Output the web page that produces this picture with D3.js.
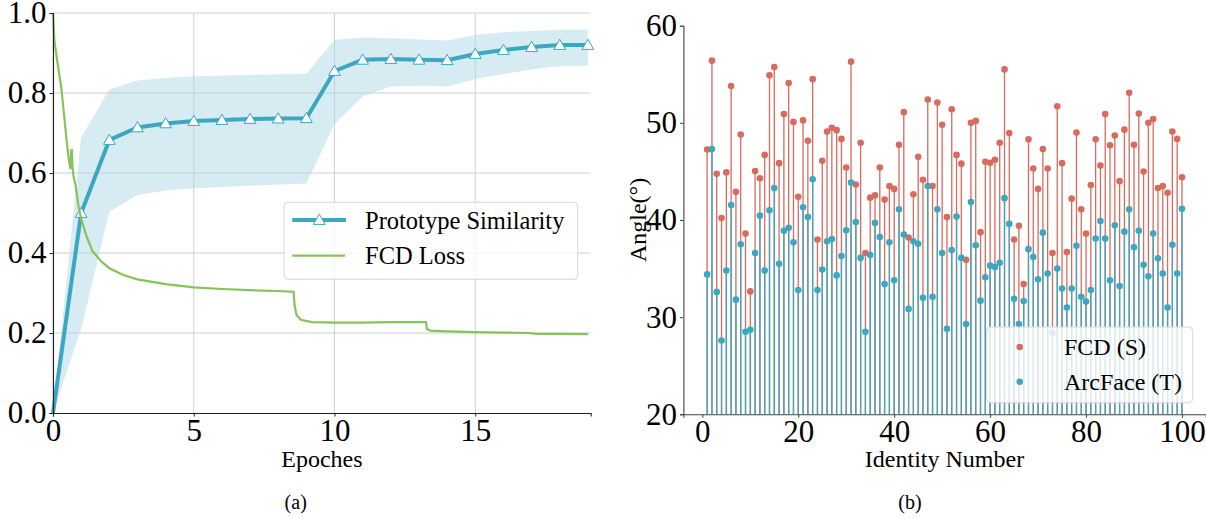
<!DOCTYPE html>
<html>
<head>
<meta charset="utf-8">
<script src="https://cdn.jsdelivr.net/npm/d3@7"></script>
<style>
    body { margin: 0; background: #fff; }
    svg { display: block; }
</style>
</head>
<body>
<svg id="chart" width="1206" height="518"></svg>
<script>
// ---- (a) data ----
var epochs = [0,1,2,3,4,5,6,7,8,9,10,11,12,13,14,15,16,17,18,19];
var simMean = [0,0.50,0.6825,0.714,0.724,0.73,0.7325,0.735,0.736,0.737,0.855,0.883,0.885,0.883,0.882,0.8975,0.9075,0.915,0.92,0.92];
var simUpper = [0,0.689,0.809,0.831,0.8375,0.842,0.844,0.845,0.847,0.848,0.9325,0.939,0.937,0.934,0.931,0.945,0.952,0.955,0.958,0.959];
var simLower = [0,0.21,0.503,0.545,0.556,0.562,0.565,0.568,0.571,0.574,0.7225,0.791,0.816,0.818,0.816,0.835,0.8475,0.859,0.8675,0.868];
var lossEpoch = [0,0.05,0.15,0.3,0.4,0.5,0.58,0.62,0.65,0.67,0.69,0.72,0.8,0.9,1.0,1.2,1.4,1.7,2.0,2.5,3.0,4.0,5.0,6.0,7.0,8.0,8.55,8.58,8.65,8.8,9.2,10,11,12,13.25,13.28,13.4,14,15,16,16.9,17.2,18,19];
var lossValue = [1.0,0.93,0.88,0.81,0.74,0.67,0.625,0.61,0.655,0.66,0.62,0.595,0.57,0.52,0.485,0.44,0.405,0.38,0.362,0.345,0.334,0.322,0.314,0.31,0.307,0.305,0.303,0.27,0.245,0.233,0.227,0.226,0.226,0.227,0.227,0.21,0.206,0.204,0.202,0.201,0.2,0.198,0.198,0.197];

// ---- (b) data ----
var fcdAngle = [47.25,56.4,44.75,40.2,44.9,53.8,42.9,48.8,38.6,32.65,
    45.05,44.3,46.7,54.9,55.75,45.85,50.9,54.1,50.1,42.4,
    50.25,48.15,54.5,38.0,46.1,49.1,49.5,49.25,48.35,45.4,
    56.3,43.65,47.95,36.6,42.3,42.55,45.4,42.1,43.5,43.2,
    47.75,51.1,38.2,42.65,46.5,44.15,52.4,43.5,52.1,49.8,
    40.3,51.4,46.7,45.8,35.9,50.0,50.2,38.75,46.0,45.9,
    46.2,47.95,55.5,48.95,38.0,39.4,33.4,48.3,45.3,43.2,
    47.3,45.3,36.6,51.7,45.85,36.7,42.2,49.0,41.1,38.6,
    43.6,48.3,45.6,50.9,47.7,48.7,44.0,49.3,53.1,47.75,
    50.95,45.0,50.0,50.4,43.3,43.5,42.8,49.1,48.35,44.4];
var arcAngle = [34.4,47.3,32.6,27.6,34.8,41.55,31.8,37.5,28.5,28.7,
    36.6,40.45,34.8,41.0,43.3,35.5,38.9,39.2,37.7,32.8,
    41.3,40.3,44.2,32.8,34.9,37.8,38.05,34.3,36.3,38.95,
    43.85,39.8,36.1,28.5,36.4,39.7,38.25,33.4,37.7,33.8,
    41.1,38.5,30.85,37.8,37.55,32.0,43.5,32.1,41.1,36.6,
    28.8,36.9,40.35,36.1,29.3,41.85,37.4,31.7,34.1,35.3,
    35.15,35.6,42.25,39.6,31.9,29.3,31.65,37.0,36.2,33.9,
    38.7,34.5,28.4,35.0,32.95,31.0,32.95,37.35,32.1,31.6,
    32.8,38.1,39.9,38.1,33.8,39.45,33.2,38.8,41.1,37.2,
    38.9,35.4,34.2,38.6,36.05,34.5,31.0,37.45,34.5,41.15];

var blue = "#3ba7c0", green = "#86c35a", red = "#d86b5d";
var serif = "'Liberation Serif', 'Times New Roman', Times, serif";
var svg = d3.select("#chart");

function styleAxis(g, color) {
    g.attr("font-family", null).attr("font-size", null);
    g.selectAll("path").attr("stroke", color).attr("stroke-width", 1.1);
    g.selectAll("line").attr("stroke", color).attr("stroke-width", 1);
    g.selectAll("text").style("font-family", serif).style("font-size", "31px").attr("fill", "#000");
}

function label(g, x, y, size, txt) {
    return g.append("text").attr("x", x).attr("y", y)
        .style("font-family", serif).style("font-size", size + "px")
        .attr("fill", "#000").text(txt);
}

// ================= (a) =================
var xa = d3.scaleLinear().domain([0, 19.1]).range([53, 590.7]);
var ya = d3.scaleLinear().domain([0, 1]).range([413, 13]);
var ga = svg.append("g");

// grid
ga.selectAll(".vgrid").data([0,5,10,15]).enter().append("line")
    .attr("x1", function(d){ return xa(d); }).attr("x2", function(d){ return xa(d); })
    .attr("y1", ya(0)).attr("y2", ya(1))
    .attr("stroke", "#cfcfcf").attr("stroke-width", 1);
ga.selectAll(".hgrid").data([0.2,0.4,0.6,0.8,1.0]).enter().append("line")
    .attr("x1", xa(0)).attr("x2", xa(19.1))
    .attr("y1", function(d){ return ya(d); }).attr("y2", function(d){ return ya(d); })
    .attr("stroke", "#cfcfcf").attr("stroke-width", 1);

// band
var band = d3.area()
    .x(function(d, i){ return xa(epochs[i]); })
    .y0(function(d, i){ return ya(simLower[i]); })
    .y1(function(d, i){ return ya(simUpper[i]); });
ga.append("path").datum(epochs).attr("d", band)
    .attr("fill", "#add8e6").attr("fill-opacity", 0.5);

// prototype similarity line + markers
var simLine = d3.line()
    .x(function(d, i){ return xa(epochs[i]); })
    .y(function(d){ return ya(d); });
ga.append("path").datum(simMean).attr("d", simLine)
    .attr("fill", "none").attr("stroke", blue).attr("stroke-width", 4);
var tri = d3.symbol().type(d3.symbolTriangle).size(60);
ga.selectAll(".tri").data(simMean.slice(1)).enter().append("path")
    .attr("d", tri)
    .attr("transform", function(d, i){ return "translate(" + xa(epochs[i+1]) + "," + (ya(d) + 1) + ")"; })
    .attr("fill", "#fff").attr("stroke", blue).attr("stroke-width", 1);

// FCD loss
var lossLine = d3.line()
    .x(function(d, i){ return xa(lossEpoch[i]); })
    .y(function(d){ return ya(d); });
ga.append("path").datum(lossValue).attr("d", lossLine)
    .attr("fill", "none").attr("stroke", green).attr("stroke-width", 2.2);

// axes
var axA = ga.append("g").attr("transform", "translate(0," + ya(0) + ")")
    .call(d3.axisBottom(xa).tickValues([0,5,10,15]).tickSizeOuter(0).tickSize(3.5).tickPadding(2.5));
styleAxis(axA, "#222");
var ayA = ga.append("g").attr("transform", "translate(" + xa(0) + ",0)")
    .call(d3.axisLeft(ya).tickValues([0,0.2,0.4,0.6,0.8,1.0]).tickFormat(d3.format(".1f")).tickSizeOuter(0).tickSize(3.5).tickPadding(3));
styleAxis(ayA, "#222");

label(ga, 321.9, 467, 24, "Epoches").attr("text-anchor", "middle");
label(ga, 295.7, 509, 20, "(a)").attr("text-anchor", "middle");

// legend (a)
var la = ga.append("g");
la.append("rect").attr("x", 284).attr("y", 202.3).attr("width", 293.7).attr("height", 77).attr("rx", 4)
    .attr("fill", "#fff").attr("fill-opacity", 0.8).attr("stroke", "#d6d6d6");
la.append("line").attr("x1", 292.3).attr("x2", 346).attr("y1", 220).attr("y2", 220)
    .attr("stroke", blue).attr("stroke-width", 4);
la.append("path").attr("d", tri).attr("transform", "translate(319.3,221)")
    .attr("fill", "#fff").attr("stroke", blue);
la.append("line").attr("x1", 292.3).attr("x2", 345).attr("y1", 255.7).attr("y2", 255.7)
    .attr("stroke", green).attr("stroke-width", 2.2);
label(la, 365, 220, 24.5, "Prototype Similarity").attr("dy", "0.35em");
label(la, 365, 255.7, 24.5, "FCD Loss").attr("dy", "0.35em");

// ================= (b) =================
var ids = d3.range(1, 101);
var xb = d3.scaleLinear().domain([-3.95, 104.95]).range([683.4, 1205.7]);
var yb = d3.scaleLinear().domain([20, 60]).range([414.3, 25.7]);
var gb = svg.append("g");

// FCD (S) stems + markers
gb.selectAll(".fstem").data(ids).enter().append("line")
    .attr("x1", function(d){ return xb(d); }).attr("x2", function(d){ return xb(d); })
    .attr("y1", yb(20)).attr("y2", function(d, i){ return yb(fcdAngle[i]); })
    .attr("stroke", red).attr("stroke-width", 1.3);
gb.selectAll(".fdot").data(ids).enter().append("circle")
    .attr("cx", function(d){ return xb(d); }).attr("cy", function(d, i){ return yb(fcdAngle[i]); })
    .attr("r", 3.3).attr("fill", red);

// ArcFace (T) stems + markers
gb.selectAll(".astem").data(ids).enter().append("line")
    .attr("x1", function(d){ return xb(d); }).attr("x2", function(d){ return xb(d); })
    .attr("y1", yb(20)).attr("y2", function(d, i){ return yb(arcAngle[i]); })
    .attr("stroke", blue).attr("stroke-width", 1.3);
gb.selectAll(".adot").data(ids).enter().append("circle")
    .attr("cx", function(d){ return xb(d); }).attr("cy", function(d, i){ return yb(arcAngle[i]); })
    .attr("r", 3.3).attr("fill", blue);

var axB = gb.append("g").attr("transform", "translate(0," + yb(20) + ")")
    .call(d3.axisBottom(xb).tickValues([0,20,40,60,80,100]).tickSizeOuter(0).tickSize(3.5).tickPadding(2.5));
styleAxis(axB, "#444");
var ayB = gb.append("g").attr("transform", "translate(" + xb(-3.95) + ",0)")
    .call(d3.axisLeft(yb).tickValues([20,30,40,50,60]).tickSizeOuter(0).tickSize(3.5).tickPadding(3));
styleAxis(ayB, "#444");

label(gb, 944.5, 467, 24, "Identity Number").attr("text-anchor", "middle");
label(gb, 0, 0, 24, "Angle(°)").attr("text-anchor", "middle")
    .attr("transform", "translate(646,220) rotate(-90)");
label(gb, 910, 509, 20, "(b)").attr("text-anchor", "middle");

// legend (b)
var lb = gb.append("g");
lb.append("rect").attr("x", 986.7).attr("y", 327).attr("width", 206).attr("height", 75.7).attr("rx", 4)
    .attr("fill", "#fff").attr("fill-opacity", 0.8).attr("stroke", "#d6d6d6");
lb.append("circle").attr("cx", 1019.7).attr("cy", 347).attr("r", 3.3).attr("fill", red);
lb.append("circle").attr("cx", 1019.7).attr("cy", 381.7).attr("r", 3.3).attr("fill", blue);
label(lb, 1064, 347, 24, "FCD (S)").attr("dy", "0.35em");
label(lb, 1064, 381.7, 24, "ArcFace (T)").attr("dy", "0.35em");
</script>
</body>
</html>
